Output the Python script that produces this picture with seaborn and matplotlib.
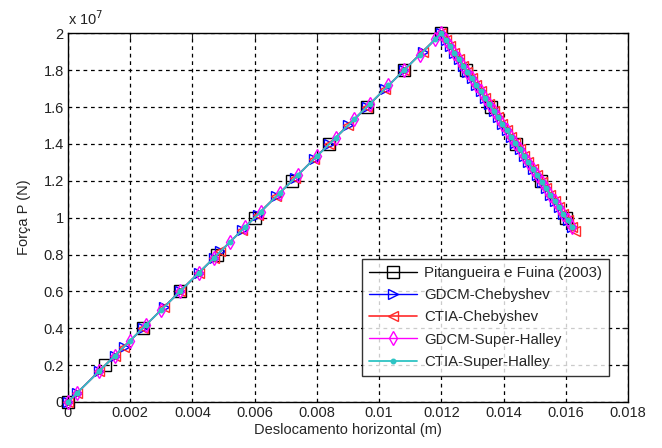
import numpy as np
import pandas as pd
import matplotlib
matplotlib.use("Agg")
import matplotlib.pyplot as plt
import seaborn as sns

# Dados (x em m, y em 1e7 N)
pit_x = [0, 0.0012, 0.0024, 0.0036, 0.0048, 0.0060, 0.0072, 0.0084, 0.0096, 0.0108,
         0.0120, 0.0128, 0.0136, 0.0144, 0.0152, 0.0160]
pit_y = [0, 0.2, 0.4, 0.6, 0.8, 1.0, 1.2, 1.4, 1.6, 1.8,
         2.0, 1.8, 1.6, 1.4, 1.2, 1.0]

cheb_x_sub = [0, 0.0003, 0.0010, 0.0015, 0.0018, 0.0024, 0.0031, 0.0036, 0.0042, 0.0047,
              0.0049, 0.0056, 0.0061, 0.0067, 0.0073, 0.0079, 0.0084, 0.0090, 0.0096,
              0.0102, 0.0108, 0.0114, 0.0120]
cheb_y_sub = [0, 0.05, 0.167, 0.25, 0.30, 0.40, 0.517, 0.60, 0.70, 0.783,
              0.817, 0.933, 1.017, 1.117, 1.217, 1.317, 1.40, 1.50, 1.60,
              1.70, 1.80, 1.90, 2.0]

halley_x_sub = [0, 0.0003, 0.0010, 0.0015, 0.0020, 0.0025, 0.0030, 0.0036, 0.0042, 0.0047,
                0.0052, 0.0057, 0.0062, 0.0068, 0.0074, 0.0080, 0.0086, 0.0092, 0.0097,
                0.0103, 0.0108, 0.0113, 0.0118, 0.0120]
halley_y_sub = [0, 0.05, 0.167, 0.25, 0.333, 0.417, 0.50, 0.60, 0.70, 0.783,
                0.867, 0.95, 1.033, 1.133, 1.233, 1.333, 1.433, 1.533, 1.617,
                1.717, 1.80, 1.883, 1.967, 2.0]

desc_x = [0.01215, 0.01228, 0.01242, 0.01256, 0.01270, 0.01284, 0.01298, 0.01312, 0.01326,
          0.01340, 0.01354, 0.01368, 0.01382, 0.01396, 0.01410, 0.01424, 0.01438, 0.01452,
          0.01466, 0.01480, 0.01494, 0.01508, 0.01522, 0.01536, 0.01550, 0.01564, 0.01578,
          0.01592, 0.01606, 0.01620]
desc_y = [1.9625, 1.93, 1.895, 1.86, 1.825, 1.79, 1.755, 1.72, 1.685,
          1.65, 1.615, 1.58, 1.545, 1.51, 1.475, 1.44, 1.405, 1.37,
          1.335, 1.30, 1.265, 1.23, 1.195, 1.16, 1.125, 1.09, 1.055,
          1.02, 0.985, 0.95]
ctia_cheb_end_x = [0.01630]
ctia_cheb_end_y = [0.93]

x_ticks = [0, 0.002, 0.004, 0.006, 0.008, 0.01, 0.012, 0.014, 0.016, 0.018]
x_tick_labels = ["0", "0.002", "0.004", "0.006", "0.008", "0.01", "0.012", "0.014", "0.016", "0.018"]
y_ticks = [0, 0.2, 0.4, 0.6, 0.8, 1.0, 1.2, 1.4, 1.6, 1.8, 2.0]
y_tick_labels = ["0", "0.2", "0.4", "0.6", "0.8", "1", "1.2", "1.4", "1.6", "1.8", "2"]

sns.set_style("white")
plt.rcParams['font.family'] = ['Liberation Sans', 'DejaVu Sans']

fig = plt.figure(figsize=(6.62, 4.48), dpi=100)
ax = fig.add_axes([0.1027, 0.1027, 0.846, 0.823])

series = [
    ("Pitangueira e Fuina (2003)", pit_x, pit_y, "k", "s", 8.5, 1.0),
    ("GDCM-Chebyshev", cheb_x_sub + desc_x, cheb_y_sub + desc_y, "#0000ff", ">", 6.5, 1.0),
    ("CTIA-Chebyshev", cheb_x_sub + desc_x + ctia_cheb_end_x,
     cheb_y_sub + desc_y + ctia_cheb_end_y, "#ff2a2a", "<", 7.5, 1.2),
    ("GDCM-Super-Halley", halley_x_sub + desc_x, halley_y_sub + desc_y, "#ff00ff", "d", 7, 1.0),
    ("CTIA-Super-Halley", halley_x_sub + desc_x, halley_y_sub + desc_y, "#2ec4c4", ".", 6.5, 1.3),
]

for label, xs, ys, color, marker, ms, lw in series:
    df = pd.DataFrame({"x": xs, "y": ys})
    filled = marker == "."
    sns.lineplot(data=df, x="x", y="y", ax=ax, sort=False, estimator=None,
                 color=color, lw=lw, marker=marker, markersize=ms,
                 markerfacecolor=color if filled else "none",
                 markeredgecolor=color, markeredgewidth=1.0, label=label,
                 clip_on=False, zorder=3)

ax.set_xlim(0, 0.018)
ax.set_ylim(0, 2.0)
ax.set_xticks(x_ticks)
ax.set_xticklabels(x_tick_labels)
ax.set_yticks(y_ticks)
ax.set_yticklabels(y_tick_labels)
ax.tick_params(direction="in", top=True, right=True, length=4, labelsize=10.5,
               colors="#222222", pad=3)
ax.grid(True, color="k", linestyle=(0, (3, 3)), linewidth=0.9)
for s in ax.spines.values():
    s.set_color("k")
    s.set_linewidth(1.0)

ax.set_xlabel("Deslocamento horizontal (m)", fontsize=10.5, labelpad=2)
ax.set_ylabel("Força P (N)", fontsize=10.5, labelpad=9)
ax.text(0.0, 1.015, r"x 10$^{7}$", transform=ax.transAxes, fontsize=10.5,
        ha="left", va="bottom", color="#222222")

leg = ax.legend(loc="lower right", bbox_to_anchor=(0.979, 0.051), fontsize=10.8,
                frameon=True, fancybox=False, handlelength=3.2, borderpad=0.45,
                labelspacing=0.55, handletextpad=0.5)
leg.get_frame().set_edgecolor("k")
leg.get_frame().set_linewidth(1.0)
leg.set_zorder(5)

fig.savefig("out.png", dpi=100)
